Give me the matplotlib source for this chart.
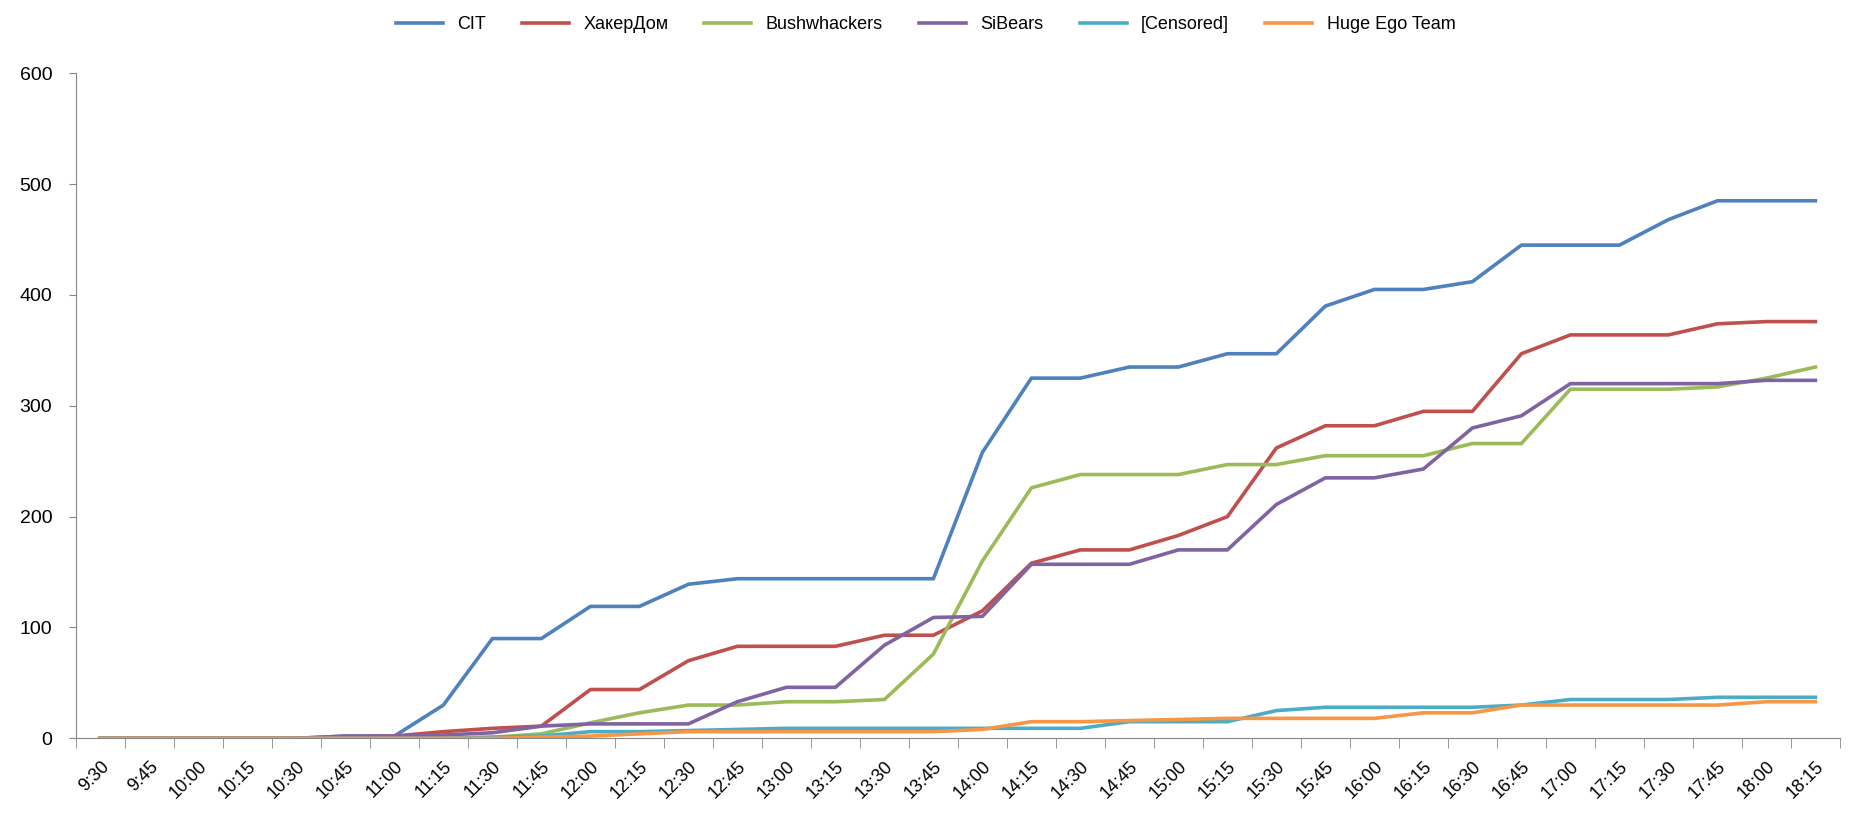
import matplotlib.pyplot as plt
import numpy as np

# time slots
times = ['9:30', '9:45', '10:00', '10:15', '10:30', '10:45', '11:00', '11:15', '11:30', '11:45',
         '12:00', '12:15', '12:30', '12:45', '13:00', '13:15', '13:30', '13:45', '14:00', '14:15',
         '14:30', '14:45', '15:00', '15:15', '15:30', '15:45', '16:00', '16:15', '16:30', '16:45',
         '17:00', '17:15', '17:30', '17:45', '18:00', '18:15']

cit = [0, 0, 0, 0, 0, 2, 2, 30, 90, 90, 119, 119, 139, 144, 144, 144, 144, 144, 258, 325,
       325, 335, 335, 347, 347, 390, 405, 405, 412, 445, 445, 445, 468, 485, 485, 485]
hackerdom = [0, 0, 0, 0, 0, 1, 2, 6, 9, 11, 44, 44, 70, 83, 83, 83, 93, 93, 115, 158,
             170, 170, 183, 200, 262, 282, 282, 295, 295, 347, 364, 364, 364, 374, 376, 376]
bushwhackers = [0, 0, 0, 0, 0, 0, 0, 0, 1, 4, 14, 23, 30, 30, 33, 33, 35, 76, 160, 226,
                238, 238, 238, 247, 247, 255, 255, 255, 266, 266, 315, 315, 315, 317, 325, 335]
sibears = [0, 0, 0, 0, 0, 2, 2, 3, 5, 11, 13, 13, 13, 33, 46, 46, 84, 109, 110, 157,
           157, 157, 170, 170, 211, 235, 235, 243, 280, 291, 320, 320, 320, 320, 323, 323]
censored = [0, 0, 0, 0, 0, 0, 0, 0, 1, 2, 6, 6, 7, 8, 9, 9, 9, 9, 9, 9,
            9, 15, 15, 15, 25, 28, 28, 28, 28, 30, 35, 35, 35, 37, 37, 37]
hugeego = [0, 0, 0, 0, 0, 0, 0, 0, 0, 1, 2, 4, 6, 6, 6, 6, 6, 6, 8, 15,
           15, 16, 17, 18, 18, 18, 18, 23, 23, 30, 30, 30, 30, 30, 33, 33]

teams = ['CIT', 'ХакерДом', 'Bushwhackers', 'SiBears', '[Censored]', 'Huge Ego Team']
series = [cit, hackerdom, bushwhackers, sibears, censored, hugeego]
colors = ['#4F81BD', '#C0504D', '#9BBB59', '#8064A2', '#4BACC6', '#F79646']

plt.rcParams['font.family'] = ['Liberation Sans', 'DejaVu Sans']

fig = plt.figure(figsize=(18.51, 8.24), dpi=100)
ax = fig.add_axes([0.041, 0.104, 0.953, 0.807])

x = np.arange(len(times))
for name, vals, c in zip(teams, series, colors):
    ax.plot(x, vals, color=c, lw=2.6, label=name)

ax.set_xlim(-0.5, len(times) - 0.5)
ax.set_ylim(0, 600)
ax.set_yticks(range(0, 601, 100))
ax.tick_params(axis='y', labelsize=14, length=5, pad=12, color='#868686')

# category labels centred, ticks on the category borders
ax.set_xticks(x)
ax.set_xticklabels(times, rotation=45, ha='right', rotation_mode='anchor', fontsize=13)
ax.tick_params(axis='x', which='major', length=0, pad=14)
ax.set_xticks(np.arange(-0.5, len(times), 1), minor=True)
ax.tick_params(axis='x', which='minor', length=7, color='#868686')

for s in ['top', 'right']:
    ax.spines[s].set_visible(False)
for s in ['left', 'bottom']:
    ax.spines[s].set_color('#868686')

fig.legend(loc='upper center', bbox_to_anchor=(0.5, 1.0), ncol=6, frameon=False,
           fontsize=13, handlelength=2.6, columnspacing=2.0)

plt.savefig('out.png', dpi=100)
